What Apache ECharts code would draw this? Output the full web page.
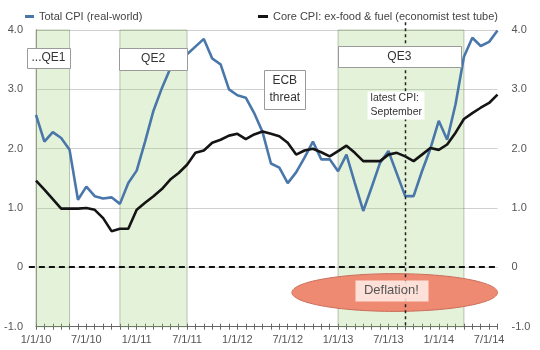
<!DOCTYPE html>
<html><head><meta charset="utf-8">
<script src="https://cdn.jsdelivr.net/npm/echarts@6/dist/echarts.min.js"></script>
<style>html,body{margin:0;padding:0;background:#fff}#c{width:540px;height:350px}</style>
</head><body><div id="c"></div>
<script>
// months since 1/1/10
const monthCount = 55;
const tickLabels = ['1/1/10','7/1/10','1/1/11','7/1/11','1/1/12','7/1/12','1/1/13','7/1/13','1/1/14','7/1/14'];
const yTickLabels = {'-1':'-1.0','0':'0','1':'1.0','2':'2.0','3':'3.0','4':'4.0'};
const totalCPI = [2.57,2.12,2.28,2.18,1.98,1.14,1.36,1.20,1.16,1.18,
  1.07,1.42,1.63,2.12,2.64,3.02,3.35,3.57,3.59,3.72,
  3.85,3.52,3.42,3.00,2.90,2.86,2.60,2.28,1.75,1.68,
  1.42,1.60,1.85,2.12,1.82,1.82,1.62,1.90,1.42,0.95,
  1.35,1.76,1.96,1.58,1.20,1.20,1.62,2.00,2.47,2.15,
  2.75,3.55,3.87,3.73,3.80,3.99];
const coreCPI = [1.46,1.31,1.15,0.99,0.99,0.99,1.00,0.97,0.83,0.61,
  0.65,0.65,0.97,1.09,1.20,1.32,1.48,1.59,1.73,1.93,
  1.97,2.10,2.15,2.22,2.25,2.16,2.24,2.29,2.25,2.21,
  2.10,1.90,1.97,2.00,1.94,1.87,1.96,2.05,1.93,1.79,
  1.79,1.79,1.90,1.93,1.87,1.79,1.90,2.01,1.98,2.07,
  2.27,2.50,2.60,2.69,2.77,2.91];
const qeBands = [[0,4],[10,18],[36,51]];
const latestMonth = 44;
const seriesNames = ['Total CPI (real-world)','Core CPI: ex-food & fuel (economist test tube)'];

const font = '"Liberation Sans", Arial, Helvetica, sans-serif';
const chart = echarts.init(document.getElementById('c'), null, {renderer:'canvas'});
const xAxisBase = {
  type:'value', min:0, max:monthCount, interval:1, position:'bottom',
  splitLine:{show:false}
};
const option = {
  animation:false,
  grid:{left:36, right:42.5, top:30, bottom:23.3},
  legend:[
    {data:[seriesNames[0]], left:20, top:6, icon:'rect', itemWidth:9, itemHeight:3, itemGap:8,
     textStyle:{fontFamily:font, fontSize:11, color:'#444'}},
    {data:[seriesNames[1]], left:253, top:6, icon:'rect', itemWidth:10, itemHeight:3,
     textStyle:{fontFamily:font, fontSize:11, color:'#444'}}
  ],
  xAxis:[
    Object.assign({}, xAxisBase, {
      axisLine:{show:true, onZero:false, lineStyle:{color:'#666', width:1}},
      axisTick:{show:true, length:3, lineStyle:{color:'#666'}},
      axisLabel:{fontFamily:font, fontSize:11, color:'#555', margin:8,
        formatter:v => (v % 6 === 0 && tickLabels[v/6] !== undefined) ? tickLabels[v/6] : ''}
    }),
    Object.assign({}, xAxisBase, {
      axisLine:{show:false, onZero:false},
      axisTick:{show:true, inside:true, length:3, lineStyle:{color:'#666'}},
      axisLabel:{show:false}
    })
  ],
  yAxis:[
    {type:'value', min:-1, max:4, interval:1, position:'left',
     axisLine:{show:true, lineStyle:{color:'#999'}}, axisTick:{show:false},
     axisLabel:{fontFamily:font, fontSize:11, color:'#555', margin:13, formatter:v=>yTickLabels[String(v)]},
     splitLine:{show:true, lineStyle:{color:'#d0d0d0', width:1}}},
    {type:'value', min:-1, max:4, interval:1, position:'right',
     axisLine:{show:true, lineStyle:{color:'#999'}}, axisTick:{show:false},
     axisLabel:{fontFamily:font, fontSize:11, color:'#555', margin:14, formatter:v=>yTickLabels[String(v)]},
     splitLine:{show:false}}
  ],
  series:[
    {name:seriesNames[0], type:'line', z:2, data:totalCPI.map((v,i)=>[i,v]), showSymbol:false,
     lineStyle:{color:'#4a77aa', width:2.6}, itemStyle:{color:'#4a77aa'}},
    {name:seriesNames[1], type:'line', z:2, data:coreCPI.map((v,i)=>[i,v]), showSymbol:false,
     lineStyle:{color:'#141414', width:2.6}, itemStyle:{color:'#141414'}},
    {name:'bands', type:'line', z:3, data:[], silent:true,
     markArea:{silent:true,
       itemStyle:{color:'rgba(150,205,110,0.26)', borderColor:'rgba(110,130,100,0.45)', borderWidth:1},
       data:qeBands.map(b=>[{xAxis:b[0], yAxis:4},{xAxis:b[1], yAxis:-1}])}}
  ]
};
chart.setOption(option);

const P = (x,y) => chart.convertToPixel({gridIndex:0},[x,y]);
function box(x0,y0,x1,y1,text,opt){
  opt = opt || {};
  const a = P(x0,y0), b = P(x1,y1);
  const els = [];
  els.push({type:'rect', z:100, silent:true,
    shape:{x:Math.round(a[0])+0.5, y:Math.round(a[1])+0.5, width:Math.round(b[0]-a[0]), height:Math.round(b[1]-a[1])},
    style:{fill:opt.fill||'#fff', stroke:opt.stroke===undefined?'#9a9a9a':opt.stroke, lineWidth:1}});
  const align = opt.align||'center';
  els.push({type:'text', z:101, silent:true,
    x: align==='center' ? (a[0]+b[0])/2 : a[0]+opt.pad,
    y:(a[1]+b[1])/2,
    style:{text:text, fontFamily:font, fontSize:opt.fontSize||12, fill:opt.color||'#333',
      align:align, verticalAlign:'middle', lineHeight:opt.lineHeight||15}});
  return els;
}
const e0 = P(30.5,-0.106), e1 = P(monthCount,-0.742);
const z0a = P(-0.85,0), z0b = P(monthCount,0);
const lta = P(latestMonth,4.13), ltb = P(latestMonth,-1);
let elements = [
  {type:'ellipse', z:1, silent:true,
   shape:{cx:(e0[0]+e1[0])/2, cy:(e0[1]+e1[1])/2, rx:(e1[0]-e0[0])/2, ry:(e1[1]-e0[1])/2},
   style:{fill:'#ef8a72', stroke:'#c96b58', lineWidth:1}},
  {type:'line', z:50, silent:true,
   shape:{x1:z0a[0], y1:Math.round(z0a[1]), x2:z0b[0], y2:Math.round(z0b[1])},
   style:{stroke:'#111', lineWidth:2, lineDash:[6,4]}},
  {type:'line', z:50, silent:true,
   shape:{x1:Math.round(lta[0])+0.5, y1:lta[1], x2:Math.round(ltb[0])+0.5, y2:ltb[1]},
   style:{stroke:'#222', lineWidth:1.5, lineDash:[3,3]}}
];
elements = elements
  .concat(box(-1.07,3.70,4.05,3.37,'...QE1'))
  .concat(box(9.9,3.70,18.0,3.33,'QE2'))
  .concat(box(36.0,3.73,50.6,3.37,'QE3'))
  .concat(box(27.2,3.32,32.1,2.67,'ECB\nthreat',{lineHeight:17}))
  .concat(box(39.4,2.97,46.2,2.49,'latest CPI:\nSeptember',{stroke:null, align:'left', pad:4, fontSize:10.5, lineHeight:14}))
  .concat(box(38.0,-0.21,46.7,-0.57,'Deflation!',{fill:'rgba(255,240,234,0.85)', stroke:null, fontSize:13, color:'#555'}));
chart.setOption({graphic:{elements:elements}});
</script>
</body></html>
